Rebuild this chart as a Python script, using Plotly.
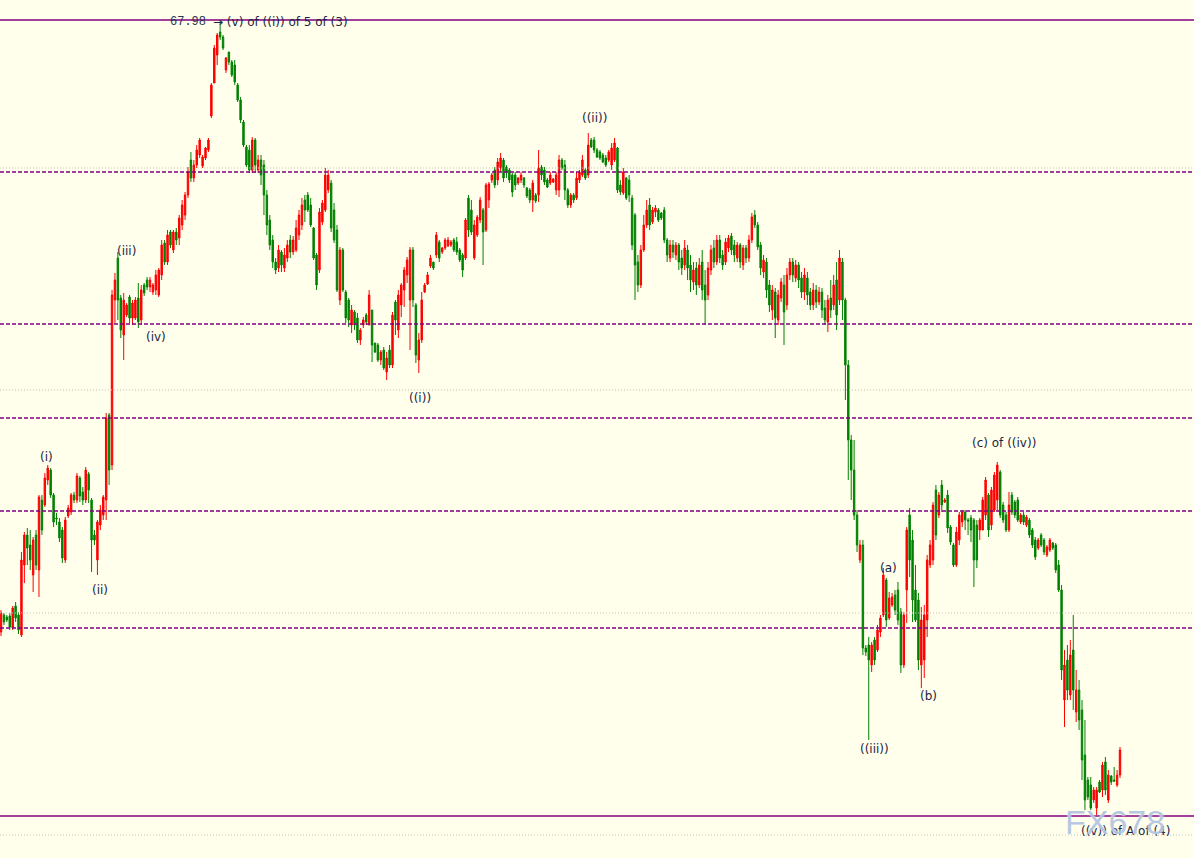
import plotly.graph_objects as go

OPEN = [
61.86, 62.03, 62.01, 62.02, 61.90, 62.12, 62.03, 61.83, 62.53, 62.83,
62.73, 62.43, 62.83, 62.48, 63.18, 63.13, 63.38, 63.48, 63.23, 63.00,
62.96, 62.88, 62.58, 63.02, 63.06, 63.23, 63.18, 63.40, 63.26, 63.18,
63.44, 63.18, 62.83, 62.58, 62.93, 63.03, 63.18, 64.03, 63.53, 65.18,
65.60, 65.20, 64.83, 65.03, 65.21, 65.00, 65.00, 65.20, 64.98, 65.33,
65.38, 65.31, 65.26, 65.28, 65.23, 65.43, 65.75, 65.56, 65.86, 65.68,
65.86, 65.80, 65.93, 66.03, 66.23, 66.58, 66.40, 66.53, 66.63, 66.52,
66.60, 66.68, 67.02, 67.35, 67.63, 67.86, 67.81, 67.48, 67.66, 67.56,
67.53, 67.33, 67.18, 66.96, 66.71, 66.68, 66.48, 66.78, 66.48, 66.58,
66.53, 66.23, 65.98, 65.78, 65.56, 65.50, 65.66, 65.50, 65.60, 65.78,
65.66, 65.68, 65.83, 65.93, 66.18, 66.23, 66.13, 65.90, 65.63, 65.48,
65.96, 66.08, 66.28, 66.35, 66.08, 65.88, 65.18, 65.68, 65.26, 65.18,
64.93, 65.06, 65.00, 64.78, 64.93, 65.03, 64.93, 65.08, 64.75, 64.73,
64.58, 64.68, 64.46, 64.68, 64.53, 65.16, 64.88, 65.13, 65.28, 65.43,
65.18, 65.68, 65.13, 64.58, 64.78, 65.26, 65.34, 65.52, 65.56, 65.63,
65.76, 65.66, 65.70, 65.72, 65.73, 65.78, 65.76, 65.68, 65.63, 65.60,
66.20, 66.08, 65.60, 65.83, 65.98, 66.08, 65.88, 66.18, 66.38, 66.48,
66.38, 66.50, 66.58, 66.51, 66.48, 66.43, 66.43, 66.35, 66.38, 66.40,
66.30, 66.28, 66.18, 66.23, 66.23, 66.51, 66.48, 66.38, 66.35, 66.36,
66.28, 66.28, 66.58, 66.53, 66.28, 66.13, 66.23, 66.20, 66.38, 66.43,
66.48, 66.43, 66.78, 66.78, 66.68, 66.66, 66.63, 66.60, 66.58, 66.53,
66.58, 66.70, 66.33, 66.25, 66.40, 66.38, 66.20, 66.03, 65.56, 65.33,
65.68, 65.93, 66.13, 65.96, 66.06, 66.08, 66.05, 66.08, 65.78, 65.60,
65.73, 65.63, 65.73, 65.60, 65.53, 65.68, 65.53, 65.36, 65.50, 65.33,
65.56, 65.33, 65.23, 65.48, 65.70, 65.56, 65.78, 65.63, 65.56, 65.70,
65.82, 65.73, 65.60, 65.73, 65.53, 65.70, 65.60, 65.78, 66.03, 65.93,
65.73, 65.46, 65.56, 65.33, 65.08, 65.26, 64.98, 65.20, 65.33, 65.13,
65.43, 65.56, 65.40, 65.53, 65.40, 65.26, 65.40, 65.26, 65.13, 65.28,
65.16, 65.26, 65.10, 64.96, 65.20, 65.13, 65.38, 65.18, 65.56, 65.18,
64.53, 63.78, 63.48, 63.03, 62.58, 62.73, 61.70, 61.73, 61.53, 61.78,
61.68, 61.86, 62.03, 62.38, 62.00, 62.13, 62.23, 62.28, 62.06, 61.53,
62.28, 63.03, 62.78, 62.28, 62.18, 61.53, 61.58, 61.98, 62.53, 62.58,
63.28, 63.03, 63.33, 63.16, 63.23, 62.91, 62.73, 62.53, 62.78, 62.96,
63.06, 62.98, 63.00, 62.98, 62.93, 62.88, 62.88, 63.03, 63.23, 62.93,
63.08, 63.18, 63.46, 63.13, 63.03, 62.88, 63.23, 63.16, 63.18, 62.96,
63.03, 62.93, 62.98, 62.88, 62.78, 62.70, 62.83, 62.78, 62.63, 62.68,
62.75, 62.73, 62.53, 62.28, 61.18, 61.58, 61.23, 61.68, 61.06, 61.28,
61.08, 60.63, 60.38, 60.33, 60.18, 60.10, 60.36, 60.28, 60.56, 60.18,
60.42, 60.38, 60.33, 60.43,
]

HIGH = [
62.08, 62.05, 62.03, 62.05, 62.12, 62.16, 62.06, 62.66, 62.86, 62.90,
62.88, 62.81, 62.88, 63.23, 63.23, 63.45, 63.53, 63.50, 63.25, 63.05,
63.00, 62.91, 63.01, 63.13, 63.25, 63.26, 63.45, 63.42, 63.31, 63.51,
63.46, 63.20, 62.88, 62.98, 63.13, 63.23, 64.05, 64.05, 65.28, 65.45,
65.66, 65.23, 65.25, 65.15, 65.23, 65.18, 65.21, 65.35, 65.33, 65.35,
65.41, 65.41, 65.35, 65.48, 65.50, 65.78, 65.78, 65.88, 65.88, 65.88,
65.90, 66.03, 66.18, 66.26, 66.51, 66.66, 66.58, 66.73, 66.80, 66.63,
66.71, 66.80, 67.35, 67.73, 67.85, 67.98, 67.83, 67.61, 67.66, 67.58,
67.58, 67.35, 67.21, 66.98, 66.73, 66.73, 66.81, 66.80, 66.63, 66.63,
66.58, 66.28, 66.03, 65.83, 65.60, 65.73, 65.68, 65.70, 65.78, 65.83,
65.82, 65.98, 66.08, 66.20, 66.23, 66.26, 66.20, 65.91, 65.65, 66.10,
66.18, 66.50, 66.48, 66.38, 66.15, 65.93, 65.71, 65.70, 65.28, 65.20,
65.13, 65.08, 65.05, 64.90, 65.01, 65.05, 65.28, 65.08, 64.75, 64.75,
64.68, 64.71, 64.66, 64.73, 65.06, 65.18, 65.28, 65.35, 65.51, 65.61,
65.71, 65.71, 65.15, 64.85, 65.26, 65.35, 65.46, 65.63, 65.56, 65.86,
65.78, 65.71, 65.80, 65.81, 65.78, 65.80, 65.81, 65.70, 65.65, 66.00,
66.23, 66.18, 65.98, 66.03, 66.21, 66.10, 66.35, 66.36, 66.45, 66.51,
66.60, 66.65, 66.60, 66.53, 66.50, 66.45, 66.46, 66.41, 66.46, 66.41,
66.31, 66.30, 66.38, 66.25, 66.68, 66.53, 66.51, 66.40, 66.46, 66.40,
66.46, 66.63, 66.60, 66.58, 66.30, 66.25, 66.25, 66.46, 66.48, 66.63,
66.50, 66.85, 66.80, 66.81, 66.70, 66.68, 66.65, 66.63, 66.68, 66.75,
66.80, 66.71, 66.38, 66.50, 66.41, 66.43, 66.23, 66.05, 65.63, 65.73,
66.03, 66.18, 66.20, 66.11, 66.13, 66.10, 66.06, 66.11, 65.80, 65.78,
65.78, 65.76, 65.75, 65.68, 65.78, 65.73, 65.63, 65.56, 65.56, 65.60,
65.68, 65.48, 65.56, 65.73, 65.78, 65.83, 65.83, 65.68, 65.80, 65.83,
65.85, 65.78, 65.76, 65.75, 65.73, 65.73, 65.83, 66.05, 66.08, 65.96,
65.76, 65.63, 65.60, 65.38, 65.33, 65.30, 65.28, 65.40, 65.43, 65.50,
65.60, 65.60, 65.58, 65.56, 65.46, 65.50, 65.46, 65.30, 65.35, 65.33,
65.31, 65.30, 65.18, 65.23, 65.38, 65.43, 65.56, 65.68, 65.60, 65.20,
64.58, 63.83, 63.78, 63.08, 62.78, 62.78, 61.73, 61.81, 61.76, 61.81,
61.93, 62.03, 62.50, 62.40, 62.26, 62.25, 62.28, 62.36, 62.10, 62.06,
62.91, 63.10, 62.88, 62.53, 62.25, 62.11, 62.13, 62.63, 62.78, 63.16,
63.33, 63.26, 63.38, 63.20, 63.28, 62.93, 62.75, 62.91, 63.06, 63.08,
63.08, 63.00, 63.03, 63.00, 62.98, 63.00, 63.21, 63.41, 63.25, 63.31,
63.46, 63.56, 63.48, 63.16, 63.06, 63.26, 63.26, 63.18, 63.21, 63.05,
63.06, 63.03, 63.00, 62.90, 62.81, 62.80, 62.85, 62.80, 62.73, 62.80,
62.76, 62.75, 62.58, 62.33, 61.68, 61.73, 61.78, 62.03, 61.48, 61.38,
61.18, 60.98, 60.41, 60.41, 60.31, 60.31, 60.38, 60.56, 60.61, 60.48,
60.43, 60.51, 60.48, 60.71,
]

LOW = [
61.82, 61.93, 61.96, 61.88, 61.88, 61.96, 61.84, 61.81, 62.35, 62.53,
62.48, 62.26, 62.48, 62.21, 62.83, 63.11, 63.33, 63.20, 62.91, 62.93,
62.76, 62.55, 62.55, 63.00, 63.03, 63.15, 63.15, 63.16, 63.13, 63.15,
63.15, 62.46, 62.73, 62.43, 62.88, 62.98, 62.98, 63.33, 63.48, 64.95,
64.98, 64.80, 64.58, 65.01, 64.95, 64.93, 64.98, 64.90, 64.93, 65.22,
65.28, 65.26, 65.23, 65.23, 65.21, 65.38, 65.53, 65.53, 65.70, 65.65,
65.73, 65.73, 65.88, 65.98, 66.20, 66.36, 66.36, 66.50, 66.60, 66.50,
66.58, 66.66, 67.00, 67.35, 67.53, 67.78, 67.68, 67.45, 67.53, 67.41,
67.33, 67.16, 66.95, 66.71, 66.51, 66.45, 66.45, 66.45, 66.45, 66.33,
66.03, 65.83, 65.68, 65.50, 65.44, 65.46, 65.46, 65.46, 65.56, 65.60,
65.63, 65.66, 65.78, 65.88, 65.96, 66.06, 65.91, 65.58, 65.28, 65.45,
65.93, 66.06, 66.25, 65.86, 65.75, 65.26, 65.13, 65.26, 64.95, 64.91,
64.85, 64.88, 64.75, 64.73, 64.90, 64.93, 64.93, 64.56, 64.65, 64.56,
64.53, 64.48, 64.38, 64.50, 64.50, 64.83, 64.80, 65.01, 65.11, 65.35,
64.68, 65.11, 64.55, 64.45, 64.75, 65.25, 65.33, 65.50, 65.48, 65.60,
65.56, 65.64, 65.68, 65.71, 65.71, 65.66, 65.63, 65.56, 65.41, 65.58,
65.81, 65.83, 65.58, 65.81, 65.95, 65.53, 65.86, 66.10, 66.35, 66.30,
66.33, 66.46, 66.36, 66.40, 66.35, 66.21, 66.28, 66.33, 66.35, 66.30,
66.20, 66.15, 66.06, 66.15, 66.16, 66.38, 66.33, 66.30, 66.33, 66.35,
66.23, 66.21, 66.48, 66.18, 66.10, 66.10, 66.15, 66.18, 66.35, 66.41,
66.38, 66.40, 66.70, 66.65, 66.60, 66.58, 66.55, 66.51, 66.56, 66.48,
66.56, 66.25, 66.23, 66.23, 66.18, 66.16, 65.68, 65.18, 65.26, 65.30,
65.66, 65.90, 65.88, 65.94, 66.01, 65.96, 65.98, 65.75, 65.56, 65.56,
65.60, 65.58, 65.48, 65.43, 65.48, 65.38, 65.26, 65.28, 65.23, 65.30,
65.18, 64.93, 65.18, 65.43, 65.50, 65.53, 65.55, 65.48, 65.53, 65.66,
65.63, 65.56, 65.56, 65.50, 65.48, 65.55, 65.56, 65.75, 65.90, 65.68,
65.43, 65.40, 65.20, 65.06, 64.98, 64.80, 64.93, 65.16, 64.73, 65.08,
65.38, 65.36, 65.36, 65.30, 65.20, 65.18, 65.13, 65.08, 65.08, 65.10,
65.13, 65.00, 64.93, 64.86, 65.00, 65.08, 64.88, 65.13, 64.98, 64.18,
63.38, 63.18, 62.98, 62.66, 62.55, 61.63, 61.62, 60.78, 61.46, 61.53,
61.66, 61.81, 62.01, 61.91, 61.98, 62.11, 62.03, 61.93, 61.45, 61.50,
61.95, 62.41, 61.96, 61.96, 61.48, 61.30, 61.40, 61.81, 62.50, 62.53,
62.78, 63.00, 63.06, 63.15, 62.85, 62.73, 62.51, 62.51, 62.73, 62.91,
62.88, 62.83, 62.76, 62.31, 62.50, 62.78, 62.88, 62.98, 62.81, 62.88,
63.06, 63.08, 63.00, 62.95, 62.86, 62.86, 63.03, 63.00, 62.96, 62.94,
62.93, 62.91, 62.80, 62.70, 62.58, 62.68, 62.71, 62.63, 62.61, 62.66,
62.68, 62.45, 62.26, 61.38, 60.91, 61.18, 61.18, 61.08, 60.96, 60.88,
60.38, 60.08, 60.18, 60.08, 60.15, 60.03, 60.25, 60.21, 60.23, 60.15,
60.33, 60.36, 60.31, 60.40,
]

CLOSE = [
62.05, 61.96, 61.98, 61.91, 62.10, 62.00, 61.88, 62.58, 62.83, 62.70,
62.58, 62.78, 62.53, 63.21, 62.88, 63.40, 63.50, 63.23, 62.96, 62.99,
62.80, 62.60, 62.98, 63.10, 63.23, 63.18, 63.42, 63.22, 63.18, 63.48,
63.28, 62.78, 62.78, 62.96, 63.08, 63.21, 64.00, 63.48, 65.23, 65.38,
65.18, 64.88, 65.18, 65.13, 65.00, 65.15, 65.18, 64.96, 65.28, 65.25,
65.31, 65.38, 65.33, 65.43, 65.48, 65.73, 65.56, 65.83, 65.73, 65.86,
65.78, 66.00, 66.13, 66.23, 66.46, 66.40, 66.53, 66.68, 66.78, 66.61,
66.70, 66.78, 67.33, 67.70, 67.83, 67.81, 67.70, 67.60, 67.56, 67.43,
67.36, 67.18, 66.98, 66.73, 66.53, 66.48, 66.78, 66.53, 66.58, 66.43,
66.23, 65.93, 65.73, 65.56, 65.48, 65.68, 65.53, 65.63, 65.73, 65.66,
65.78, 65.90, 66.03, 66.13, 66.08, 66.08, 65.93, 65.60, 65.33, 66.06,
66.15, 66.43, 66.43, 65.90, 65.78, 65.28, 65.68, 65.28, 65.00, 64.98,
65.08, 64.93, 64.78, 64.88, 64.98, 64.96, 65.23, 64.73, 64.66, 64.58,
64.66, 64.50, 64.60, 64.53, 65.03, 64.98, 65.23, 65.33, 65.48, 65.58,
65.68, 65.18, 64.63, 64.78, 65.18, 65.33, 65.43, 65.60, 65.50, 65.83,
65.60, 65.70, 65.78, 65.78, 65.76, 65.68, 65.66, 65.58, 65.48, 65.98,
65.88, 65.86, 65.93, 66.01, 66.18, 65.86, 66.33, 66.34, 66.43, 66.33,
66.56, 66.60, 66.40, 66.46, 66.38, 66.26, 66.33, 66.40, 66.43, 66.33,
66.22, 66.18, 66.35, 66.17, 66.50, 66.43, 66.36, 66.31, 66.43, 66.39,
66.43, 66.58, 66.50, 66.28, 66.13, 66.23, 66.18, 66.40, 66.46, 66.58,
66.40, 66.73, 66.71, 66.68, 66.61, 66.60, 66.56, 66.53, 66.66, 66.70,
66.75, 66.28, 66.26, 66.46, 66.20, 66.23, 65.73, 65.53, 65.33, 65.68,
65.93, 66.08, 65.93, 66.08, 66.10, 65.98, 66.00, 65.78, 65.63, 65.73,
65.66, 65.73, 65.56, 65.50, 65.70, 65.50, 65.38, 65.48, 65.33, 65.53,
65.28, 65.18, 65.50, 65.68, 65.56, 65.78, 65.60, 65.53, 65.76, 65.80,
65.68, 65.63, 65.73, 65.56, 65.70, 65.60, 65.78, 66.01, 65.93, 65.71,
65.50, 65.58, 65.28, 65.13, 65.28, 65.00, 65.23, 65.36, 65.06, 65.43,
65.56, 65.43, 65.53, 65.38, 65.26, 65.43, 65.23, 65.13, 65.28, 65.16,
65.26, 65.08, 64.98, 65.18, 65.08, 65.33, 65.03, 65.60, 65.18, 64.53,
63.78, 63.48, 63.03, 62.73, 62.73, 61.70, 61.66, 61.58, 61.73, 61.58,
61.88, 62.00, 62.43, 61.98, 62.20, 62.21, 62.08, 61.98, 61.53, 62.03,
62.88, 62.58, 62.18, 61.98, 61.58, 61.98, 62.03, 62.58, 62.73, 63.13,
62.83, 63.23, 63.13, 63.18, 62.90, 62.76, 62.53, 62.86, 63.03, 63.06,
62.98, 62.97, 62.88, 62.58, 62.58, 62.98, 63.18, 63.38, 62.88, 63.28,
63.43, 63.53, 63.03, 62.98, 62.88, 63.13, 63.06, 63.03, 62.98, 63.03,
62.96, 63.01, 62.83, 62.73, 62.61, 62.78, 62.73, 62.66, 62.71, 62.78,
62.70, 62.48, 62.28, 61.48, 61.53, 61.28, 61.63, 61.28, 61.28, 60.98,
60.58, 60.18, 60.21, 60.10, 60.28, 60.28, 60.26, 60.53, 60.28, 60.43,
60.36, 60.37, 60.43, 60.68,
]

# horizontal price levels
LEVELS_SOLID = [67.98, 60.02]
LEVELS_DASHED = [66.46, 64.94, 64.00, 63.07, 61.90]
LEVELS_DOTTED = [66.50, 64.28, 62.05, 59.83]

# wave labels: text, bar position, price
WAVE_LABELS = [
    ("(i)", 15.7, 63.61),
    ("(ii)", 33.9, 62.28),
    ("(iii)", 43.1, 65.67),
    ("(iv)", 53.1, 64.81),
    ("((i))", 143.4, 64.20),
    ("((ii))", 203.3, 67.00),
    ("((iii))", 298.8, 60.69),
    ("(a)", 303.6, 62.50),
    ("(b)", 317.3, 61.22),
    ("(c) of ((iv))", 343.3, 63.75),
    ("((v)) of A of (4)", 385.0, 59.87),
]

TOP_PRICE_TEXT = "67.98"
TOP_LABEL_TEXT = "\u2192 (v) of ((i)) of 5 of (3)"
WATERMARK = "FX678"

N = len(CLOSE)
X = list(range(N))

W, H = 1194, 858
first_px, last_px = 1.0, 1120.0
step = (last_px - first_px) / (N - 1)
x0 = -first_px / step
x1 = x0 + W / step
y_top = 68.18
y_bot = y_top - H / 100.0

BG = "#FFFFEC"
RED = "#FF0000"
GREEN = "#008000"
PURPLE = "#800080"
TXT = "#1b2442"

fig = go.Figure()
fig.add_trace(go.Candlestick(
    x=X, open=OPEN, high=HIGH, low=LOW, close=CLOSE,
    increasing=dict(line=dict(color=RED, width=1), fillcolor=RED),
    decreasing=dict(line=dict(color=GREEN, width=1), fillcolor=GREEN),
    whiskerwidth=0,
    hoverinfo="skip",
))

shapes = []
for lv in LEVELS_DOTTED:
    shapes.append(dict(type="line", xref="paper", x0=0, x1=1, yref="y", y0=lv, y1=lv,
                       line=dict(color="#C0C0C0", width=1, dash="1px,2px")))
for lv in LEVELS_DASHED:
    shapes.append(dict(type="line", xref="paper", x0=0, x1=1, yref="y", y0=lv, y1=lv,
                       line=dict(color=PURPLE, width=1.4, dash="4px,2px")))
for lv in LEVELS_SOLID:
    shapes.append(dict(type="line", xref="paper", x0=0, x1=1, yref="y", y0=lv, y1=lv,
                       line=dict(color=PURPLE, width=1.4)))

annotations = []
for text, xi, yp in WAVE_LABELS:
    annotations.append(dict(x=xi, y=yp, xref="x", yref="y", text=text, showarrow=False,
                            font=dict(family="DejaVu Sans", size=12, color=TXT),
                            xanchor="center", yanchor="middle"))

annotations.append(dict(x=70.9, y=67.96, xref="x", yref="y", text=TOP_PRICE_TEXT,
                        showarrow=False, xanchor="right", yanchor="middle",
                        font=dict(family="Liberation Mono", size=12, color="#2a3550")))
annotations.append(dict(x=71.9, y=67.96, xref="x", yref="y", text=TOP_LABEL_TEXT,
                        showarrow=False, xanchor="left", yanchor="middle",
                        font=dict(family="DejaVu Sans", size=12, color=TXT)))
annotations.append(dict(x=381.3, y=59.96, xref="x", yref="y", text=WATERMARK,
                        showarrow=False, xanchor="center", yanchor="middle",
                        font=dict(family="Liberation Sans", size=34,
                                  color="rgba(170,190,220,0.85)",
                                  shadow="0px 0px 2px #ffffff")))

fig.update_layout(
    width=W, height=H,
    margin=dict(l=0, r=0, t=0, b=0),
    paper_bgcolor=BG, plot_bgcolor=BG,
    showlegend=False,
    shapes=shapes,
    annotations=annotations,
    xaxis=dict(visible=False, range=[x0, x1], rangeslider=dict(visible=False),
               fixedrange=True),
    yaxis=dict(visible=False, range=[y_bot, y_top], fixedrange=True),
    hovermode=False,
)

fig.write_html(
    "out.html",
    config={"displayModeBar": False, "staticPlot": False},
    post_script="document.body.style.margin='0';document.body.style.padding='0';"
                "document.body.style.overflow='hidden';"
                "document.body.style.background='" + BG + "';",
)
